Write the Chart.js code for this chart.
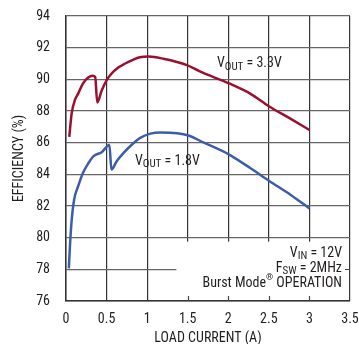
<!DOCTYPE html>
<html>
<head>
<meta charset="utf-8">
<script src="https://cdn.jsdelivr.net/npm/chart.js@4"></script>
<style>
  html, body { margin: 0; padding: 0; background: #fff; }
</style>
</head>
<body>
<canvas id="myChart" width="359" height="344"></canvas>
<script>
const FONT = "'Roboto Condensed', 'Liberation Sans', Arial, sans-serif";

// load current (A) and efficiency (%)
const current33 = [0.04, 0.07, 0.11, 0.15, 0.21, 0.27, 0.33, 0.36, 0.385, 0.44, 0.5, 0.56, 0.64, 0.73, 0.81, 0.91, 1.02, 1.2, 1.49, 1.65, 2.01, 2.27, 2.5, 2.77, 3.0];
const eff33 = [86.36, 87.85, 88.7, 89.1, 89.75, 90.1, 90.23, 90.15, 88.54, 89.3, 89.94, 90.35, 90.73, 91.0, 91.2, 91.4, 91.44, 91.3, 90.9, 90.5, 89.74, 89.1, 88.3, 87.5, 86.8];

const current18 = [0.035, 0.05, 0.07, 0.1, 0.15, 0.21, 0.275, 0.34, 0.44, 0.535, 0.56, 0.625, 0.71, 0.81, 0.915, 1.04, 1.16, 1.37, 1.51, 1.7, 2.01, 2.27, 2.5, 2.77, 3.0];
const eff18 = [78.06, 79.6, 81.1, 82.4, 83.25, 84.1, 84.7, 85.15, 85.4, 85.85, 84.3, 84.83, 85.35, 85.87, 86.3, 86.57, 86.65, 86.6, 86.45, 86.0, 85.25, 84.4, 83.6, 82.7, 81.85];

const xTickLabels = ['0', '0.5', '1', '1.5', '2', '2.5', '3', '3.5'];
const yTickLabels = ['76', '78', '80', '82', '84', '86', '88', '90', '92', '94'];

const toPoints = (xs, ys) => xs.map((x, i) => ({ x, y: ys[i] }));

// draw text with a smaller sub- or superscript part
const richText = (ctx, parts, x, y, align) => {
  const widths = parts.map((p) => {
    ctx.font = `${p.size}px ${FONT}`;
    return ctx.measureText(p.t).width;
  });
  const total = widths.reduce((a, b) => a + b, 0);
  let cx = align === 'right' ? x - total : x;
  parts.forEach((p, i) => {
    ctx.font = `${p.size}px ${FONT}`;
    ctx.fillText(p.t, cx, y + (p.dy || 0));
    cx += widths[i];
  });
};

const notes = {
  id: 'notes',
  beforeDatasetsDraw(chart) {
    const { ctx, chartArea, scales } = chart;
    const xs = scales.x;
    const ys = scales.y;
    // clear the grid behind the conditions box
    const bx = xs.getPixelForValue(1.36);
    const by = ys.getPixelForValue(79.75);
    ctx.save();
    ctx.fillStyle = '#fff';
    ctx.fillRect(bx, by, chartArea.right - bx - 1, chartArea.bottom - by - 1);
    ctx.strokeStyle = '#444';
    ctx.lineWidth = 1.2;
    ctx.beginPath();
    [1.5, 2, 2.5, 3].forEach((v) => {
      const px = Math.round(xs.getPixelForValue(v)) + 0.5;
      ctx.moveTo(px, chartArea.bottom);
      ctx.lineTo(px, chartArea.bottom - 5);
    });
    const py = Math.round(ys.getPixelForValue(78)) + 0.5;
    ctx.moveTo(chartArea.right, py);
    ctx.lineTo(chartArea.right - 5, py);
    ctx.stroke();
    ctx.restore();
  },
  afterDatasetsDraw(chart) {
    const { ctx, chartArea, scales } = chart;
    const xs = scales.x;
    const ys = scales.y;
    ctx.save();
    ctx.fillStyle = '#231f20';
    ctx.textBaseline = 'middle';
    richText(ctx, [
      { t: 'V', size: 14 },
      { t: 'OUT', size: 11, dy: 3 },
      { t: ' = 3.3V', size: 14 },
    ], xs.getPixelForValue(1.86), ys.getPixelForValue(90.97), 'left');
    richText(ctx, [
      { t: 'V', size: 14 },
      { t: 'OUT', size: 11, dy: 3 },
      { t: ' = 1.8V', size: 14 },
    ], xs.getPixelForValue(0.85), ys.getPixelForValue(84.8), 'left');
    const rx = chartArea.right - 8;
    richText(ctx, [
      { t: 'V', size: 14 },
      { t: 'IN', size: 11, dy: 3 },
      { t: ' = 12V', size: 14 },
    ], rx, chartArea.bottom - 48, 'right');
    richText(ctx, [
      { t: 'F', size: 14 },
      { t: 'SW', size: 11, dy: 3 },
      { t: ' = 2MHz', size: 14 },
    ], rx, chartArea.bottom - 33, 'right');
    richText(ctx, [
      { t: 'Burst Mode', size: 14 },
      { t: '®', size: 9, dy: -5 },
      { t: ' OPERATION', size: 14 },
    ], rx, chartArea.bottom - 18, 'right');
    ctx.restore();
  },
};

const charts = document.getElementById('myChart');
new Chart(charts, {
  type: 'line',
  data: {
    datasets: [
      {
        label: 'VOUT = 3.3V',
        data: toPoints(current33, eff33),
        borderColor: '#9b0f30',
        borderWidth: 2.5,
        pointRadius: 0,
        cubicInterpolationMode: 'monotone',
        fill: false,
      },
      {
        label: 'VOUT = 1.8V',
        data: toPoints(current18, eff18),
        borderColor: '#3d5caa',
        borderWidth: 2.5,
        pointRadius: 0,
        cubicInterpolationMode: 'monotone',
        fill: false,
      },
    ],
  },
  options: {
    responsive: false,
    animation: false,
    layout: { padding: { top: 16, right: 9, left: 0, bottom: 0 } },
    plugins: {
      legend: { display: false },
      tooltip: { enabled: false },
    },
    scales: {
      x: {
        type: 'linear',
        min: 0,
        max: 3.5,
        afterFit: (scale) => {
          scale.height = 43;
          scale.paddingLeft = 0;
          scale.paddingRight = 0;
        },
        ticks: {
          stepSize: 0.5,
          padding: 10,
          color: '#231f20',
          font: { family: FONT, size: 14 },
          callback: (v, i) => xTickLabels[i],
        },
        grid: { color: '#333', lineWidth: 1.2, drawTicks: false },
        border: { color: '#333', width: 1.5 },
        title: {
          display: true,
          text: 'LOAD CURRENT (A)',
          color: '#231f20',
          font: { family: FONT, size: 14 },
          padding: { top: 0, bottom: -3 },
        },
      },
      y: {
        min: 76,
        max: 94,
        afterFit: (scale) => {
          scale.width = 66;
          scale.paddingTop = 0;
          scale.paddingBottom = 0;
        },
        ticks: {
          stepSize: 2,
          padding: 16,
          color: '#231f20',
          font: { family: FONT, size: 14 },
          callback: (v, i) => yTickLabels[i],
        },
        grid: { color: '#666', lineWidth: 1.2, drawTicks: false },
        border: { color: '#333', width: 1.5 },
        title: {
          display: true,
          text: 'EFFICIENCY (%)',
          color: '#231f20',
          font: { family: FONT, size: 14 },
          padding: { top: 11, bottom: 0 },
        },
      },
    },
  },
  plugins: [notes],
});
</script>
</body>
</html>
